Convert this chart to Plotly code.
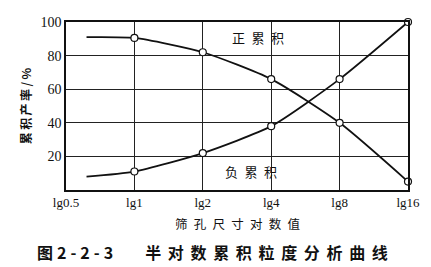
import plotly.graph_objects as go

tick_pos = [0, 1, 2, 3, 4, 5]
tick_text = ["lg0.5", "lg1", "lg2", "lg4", "lg8", "lg16"]

# 正累积 (positive cumulative)
pos_x = [0.3, 1, 2, 3, 4, 5]
pos_y = [91, 90.5, 82, 66, 40, 5]
# 负累积 (negative cumulative)
neg_x = [0.3, 1, 2, 3, 4, 5]
neg_y = [8, 11, 22, 38, 66, 100]

E = "\u2002"
S = "\u2006\u2005"
F = "\u2005"

fig = go.Figure()
for xs, ys in [(pos_x, pos_y), (neg_x, neg_y)]:
    fig.add_trace(go.Scatter(x=xs, y=ys, mode="lines",
                             line=dict(color="#111", width=1.8, shape="spline", smoothing=0.6),
                             showlegend=False, hoverinfo="skip"))
    fig.add_trace(go.Scatter(x=xs[1:], y=ys[1:], mode="markers",
                             marker=dict(symbol="circle", size=7, color="white",
                                         line=dict(color="#111", width=1.2)),
                             showlegend=False, cliponaxis=False))

fig.add_annotation(x=2.8, y=91, text=E.join("正累积"), showarrow=False,
                   font=dict(family="Noto Sans CJK SC", size=13, color="#111"))
fig.add_annotation(x=2.7, y=11, text=E.join("负累积"), showarrow=False,
                   font=dict(family="Noto Sans CJK SC", size=13, color="#111"))

fig.add_annotation(x=0.502, y=-0.13, xref="paper", yref="paper", yanchor="top",
                   text=E.join("筛孔尺寸对数值"), showarrow=False,
                   font=dict(family="Noto Sans CJK SC", size=12.5, color="#111"))
fig.add_annotation(x=-0.092, y=-0.37, xref="paper", yref="paper",
                   xanchor="left", yanchor="middle",
                   text="<b>图" + F + F.join("2-2-3") + "\u2003\u2003" + S.join("半对数累积粒度分析曲线") + "</b>",
                   showarrow=False,
                   font=dict(family="Noto Sans CJK SC", size=16, color="#111"))
fig.add_annotation(x=-0.15, y=0.5, xref="paper", yref="paper",
                   text="<b>" + "\u2009".join("累积产率/%") + "</b>", showarrow=False, textangle=-90,
                   font=dict(family="Noto Sans CJK SC", size=12, color="#111"))

fig.update_xaxes(range=[0, 5], tickvals=tick_pos, ticktext=tick_text,
                 showgrid=True, gridcolor="#222", gridwidth=1,
                 showline=True, linecolor="#111", linewidth=1.5, mirror=True,
                 zeroline=False, ticks="",
                 tickfont=dict(family="Liberation Serif", size=13, color="#111"))
fig.update_yaxes(range=[0, 100], tickvals=[20, 40, 60, 80, 100],
                 showgrid=True, gridcolor="#222", gridwidth=1,
                 showline=True, linecolor="#111", linewidth=1.5, mirror=True,
                 zeroline=False, ticks="",
                 tickfont=dict(family="Liberation Serif", size=14, color="#111"))

fig.update_layout(width=431, height=267, margin=dict(l=66, r=23, t=22, b=77),
                  plot_bgcolor="white", paper_bgcolor="white")
fig.write_html("out.html")
